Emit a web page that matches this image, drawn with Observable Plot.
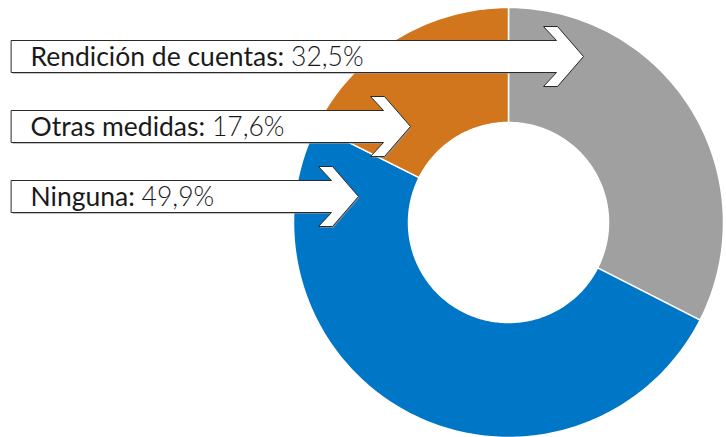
<!DOCTYPE html>
<html>
<head>
<meta charset="utf-8">
<script src="https://cdn.jsdelivr.net/npm/d3@7"></script>
<script src="https://cdn.jsdelivr.net/npm/@observablehq/plot@0.6"></script>
<style>
  body { margin: 0; background: #fff; }
  #chart svg { display: block; }
</style>
</head>
<body>
<div id="chart"></div>
<script>
// Slices, clockwise from 12 o'clock
const categories = ["Rendición de cuentas", "Ninguna", "Otras medidas"];
const shares = [32.5, 49.9, 17.6];
const valueLabels = ["32,5%", "49,9%", "17,6%"];
const colors = ["#a0a0a0", "#0077c6", "#d2761e"];

// Callout boxes, top to bottom
const calloutOrder = ["Rendición de cuentas", "Otras medidas", "Ninguna"];

// ---- layout (pixels) ----
const W = 726, H = 437;
const cx = 508, cy = 222, outerR = 215, innerR = 100;
const rowY = [56, 126, 196];        // arrow centre lines
const arrowTip = [583, 410, 358];   // where each arrow points
const boxLeft = 11, boxHalf = 16, headHalf = 30, headLen = 27, notch = 13;
const textX = 30, baselineShift = 9;
const fontFamily = "Lato, 'Open Sans', sans-serif";
const fontSize = 26.5;

// ---- donut geometry ----
const pie = d3.pie().sort(null).value(d => d.share).startAngle(0).endAngle(2 * Math.PI);
const slices = pie(categories.map((name, i) => ({name, share: shares[i]})));
const slicePts = [];
for (const s of slices) {
  const n = Math.max(8, Math.ceil((s.endAngle - s.startAngle) * 60));
  const pt = (a, r) => ({name: s.data.name, x: cx + r * Math.sin(a), y: cy - r * Math.cos(a)});
  for (let k = 0; k <= n; k++) slicePts.push(pt(s.startAngle + (s.endAngle - s.startAngle) * k / n, outerR));
  for (let k = n; k >= 0; k--) slicePts.push(pt(s.startAngle + (s.endAngle - s.startAngle) * k / n, innerR));
}

// ---- arrow callouts ----
const arrowPts = [];
const shadowPts = [];
calloutOrder.forEach((name, i) => {
  const y = rowY[i], T = arrowTip[i], E = T - headLen;
  const poly = [
    [boxLeft, y - boxHalf], [E, y - boxHalf], [E - notch, y - headHalf], [E + 1, y - headHalf],
    [T, y], [E + 1, y + headHalf], [E - notch, y + headHalf], [E, y + boxHalf], [boxLeft, y + boxHalf]
  ];
  for (const [x, yy] of poly) {
    arrowPts.push({name, x, y: yy});
    shadowPts.push({name, x: x + 1, y: yy + 1.5});
  }
});

// ---- labels ----
const ctx = document.createElement("canvas").getContext("2d");
ctx.font = `400 ${fontSize}px ${fontFamily}`;
const rows = calloutOrder.map((name, i) => {
  const j = categories.indexOf(name);
  const head = name + ": ";
  return {name, head, value: valueLabels[j], y: rowY[i] + baselineShift, vx: textX + ctx.measureText(head).width};
});

const chart = Plot.plot({
  width: W,
  height: H,
  margin: 0,
  x: {domain: [0, W], range: [0, W], axis: null},
  y: {domain: [0, H], range: [0, H], axis: null},
  color: {domain: categories, range: colors},
  style: {background: "#fff", fontFamily},
  marks: [
    Plot.line(slicePts, {x: "x", y: "y", z: "name", fill: "name", stroke: "#fff", strokeWidth: 1.5, curve: "linear-closed"}),
    Plot.line(shadowPts, {x: "x", y: "y", z: "name", fill: "#9a9a9a", fillOpacity: 0.6, stroke: "none", curve: "linear-closed"}),
    Plot.line(arrowPts, {x: "x", y: "y", z: "name", fill: "#fff", stroke: "#2a2a2a", strokeWidth: 1, curve: "linear-closed"}),
    Plot.text(rows, {x: textX, y: "y", text: "head", textAnchor: "start", lineAnchor: "bottom", fontSize, fontWeight: 400, fill: "#1a1a1a"}),
    Plot.text(rows, {x: "vx", y: "y", text: "value", textAnchor: "start", lineAnchor: "bottom", fontSize, fontWeight: 300, fill: "#1a1a1a"})
  ]
});
document.getElementById("chart").append(chart);
</script>
</body>
</html>
